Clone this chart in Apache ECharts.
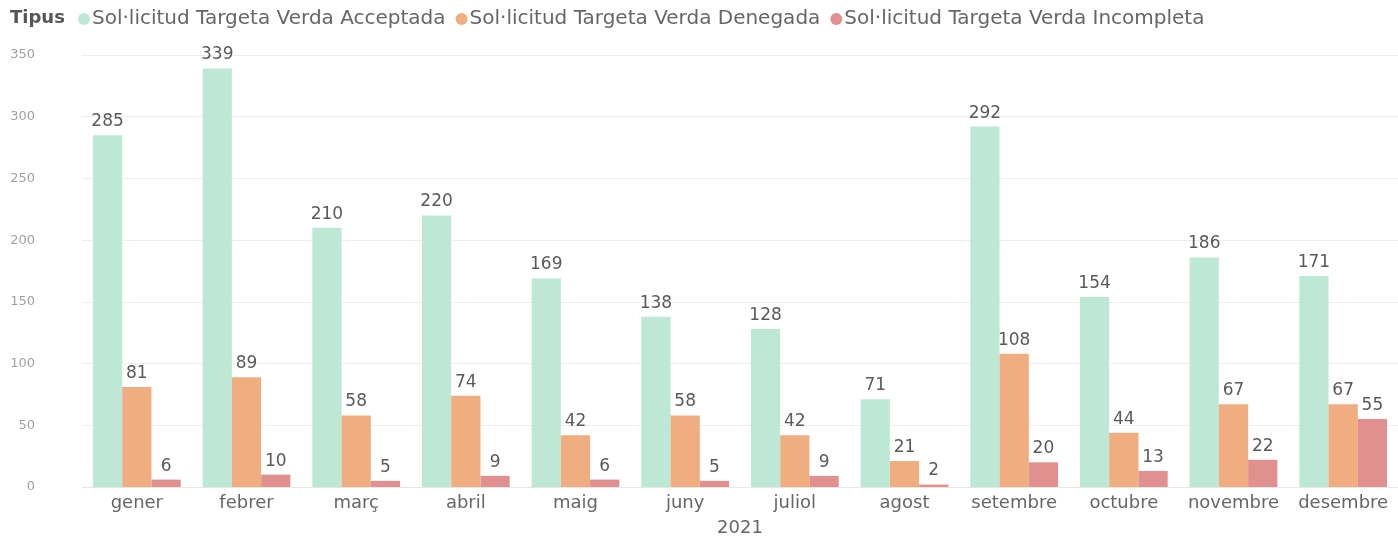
<!DOCTYPE html>
<html>
<head>
    <meta charset="utf-8">
    <title>Sol·licituds Targeta Verda 2021</title>
    <script src="https://cdn.jsdelivr.net/npm/echarts@6/dist/echarts.min.js"></script>
    <style>
        html, body { margin: 0; padding: 0; background: #fff; }
        #chart1 { width: 1398px; height: 536px; }
    </style>
</head>
<body>
<div id="chart1"></div>
<script type="text/javascript">
    // dades llegides del gràfic
    var mesos = ['gener', 'febrer', 'març', 'abril', 'maig', 'juny', 'juliol', 'agost', 'setembre', 'octubre', 'novembre', 'desembre'];
    var acceptada = [285, 339, 210, 220, 169, 138, 128, 71, 292, 154, 186, 171];
    var denegada = [81, 89, 58, 74, 42, 58, 42, 21, 108, 44, 67, 67];
    var incompleta = [6, 10, 5, 9, 6, 5, 9, 2, 20, 13, 22, 55];
    var nomsSeries = ['Sol·licitud Targeta Verda Acceptada', 'Sol·licitud Targeta Verda Denegada', 'Sol·licitud Targeta Verda Incompleta'];
    var colors = ['#bee8d6', '#f0ae80', '#e0908e'];

    var font = "'DejaVu Sans', 'Noto Sans', sans-serif";
    var myChart1 = echarts.init(document.getElementById('chart1'));

    function serie(nom, dades, color) {
        return {
            name: nom,
            type: 'bar',
            data: dades,
            barGap: '0%',
            barCategoryGap: '20%',
            itemStyle: { color: color },
            label: {
                show: true,
                position: 'top',
                distance: 5,
                color: '#5a5a5a',
                fontSize: 17,
                fontFamily: font
            }
        };
    }

    myChart1.setOption({
        textStyle: { fontFamily: font },
        title: {
            text: 'Tipus',
            left: 5,
            top: 4,
            textStyle: { fontSize: 18, fontWeight: 'bold', color: '#555', fontFamily: font }
        },
        legend: {
            left: 73,
            top: 4,
            icon: 'circle',
            itemWidth: 12,
            itemHeight: 12,
            itemGap: 10,
            textStyle: { fontSize: 20, color: '#666', fontFamily: font, padding: [0, 0, 0, -3] },
            data: nomsSeries
        },
        grid: { left: 82, right: 0, top: 55, bottom: 49, outerBoundsMode: 'none' },
        xAxis: {
            type: 'category',
            data: mesos,
            name: '2021',
            nameLocation: 'middle',
            nameGap: 32,
            nameTextStyle: { fontSize: 18, color: '#666', fontFamily: font },
            axisLine: { lineStyle: { color: '#e6e6e6' } },
            axisTick: { show: false },
            axisLabel: { fontSize: 18, color: '#666', margin: 7, interval: 0, fontFamily: font }
        },
        yAxis: {
            type: 'value',
            min: 0,
            max: 350,
            interval: 50,
            axisLine: { show: false },
            axisTick: { show: false },
            axisLabel: { fontSize: 13, color: '#a0a0a0', margin: 47, fontFamily: font },
            splitLine: { lineStyle: { color: '#eeeeee' } }
        },
        series: [
            serie(nomsSeries[0], acceptada, colors[0]),
            serie(nomsSeries[1], denegada, colors[1]),
            serie(nomsSeries[2], incompleta, colors[2])
        ]
    });
</script>
</body>
</html>
